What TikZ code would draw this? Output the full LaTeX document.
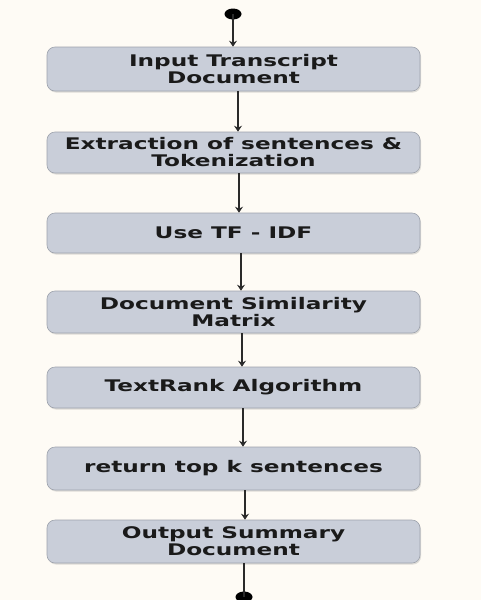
\documentclass[tikz,border=0pt]{standalone}
\usepackage{fontspec}
\newfontfamily\boxfont[FakeStretch=1.45]{DejaVu Sans}
\usetikzlibrary{arrows.meta,shadows,shapes.geometric}
\definecolor{bgcol}{HTML}{FEFBF5}
\definecolor{boxfill}{HTML}{C9CED9}
\definecolor{boxline}{HTML}{9EA3AD}
\definecolor{txtcol}{HTML}{1A1A1A}
\definecolor{arrcol}{HTML}{2A2A2A}
\tikzset{
  stepbox/.style={draw=boxline, line width=0.6pt, fill=boxfill, rounded corners=8pt,
    minimum width=373pt, inner sep=0pt, align=center, text=txtcol,
    font=\boxfont\bfseries\fontsize{16}{17}\selectfont,
    drop shadow={opacity=0.25, shadow xshift=1pt, shadow yshift=-1.5pt}},
  arr/.style={draw=arrcol, line width=2pt, -{Stealth[length=6pt,width=8pt]}},
  plainline/.style={draw=arrcol, line width=2pt},
  dot/.style={ellipse, fill=black, inner sep=0pt, minimum width=17pt, minimum height=11pt}
}
\begin{document}
\begin{tikzpicture}[x=1pt,y=-1pt]
\useasboundingbox (0,0) rectangle (481,600);
\fill[bgcol] (0,0) rectangle (481,600);
\node[dot] (start) at (233,14) {};
\node[stepbox, minimum height=44pt] (b1) at (233.5,69) {Input Transcript\\Document};
\node[stepbox, minimum height=41pt] (b2) at (233.5,152.5) {Extraction of sentences \&\\Tokenization};
\node[stepbox, minimum height=40pt] (b3) at (233.5,233) {Use TF - IDF};
\node[stepbox, minimum height=42pt] (b4) at (233.5,312) {Document Similarity\\Matrix};
\node[stepbox, minimum height=41pt] (b5) at (233.5,387.5) {TextRank Algorithm};
\node[stepbox, minimum height=43pt] (b6) at (233.5,468.5) {return top k sentences};
\node[stepbox, minimum height=43pt] (b7) at (233.5,541.5) {Output Summary\\Document};
\node[dot] (stop) at (244,597) {};
\draw[arr] (start.center) -- (start.center |- b1.north);
\draw[arr] ([xshift=4.5pt]b1.south) -- ([xshift=4.5pt]b2.north);
\draw[arr] ([xshift=5.5pt]b2.south) -- ([xshift=5.5pt]b3.north);
\draw[arr] ([xshift=7.5pt]b3.south) -- ([xshift=7.5pt]b4.north);
\draw[arr] ([xshift=8.5pt]b4.south) -- ([xshift=8.5pt]b5.north);
\draw[arr] ([xshift=9.5pt]b5.south) -- ([xshift=9.5pt]b6.north);
\draw[arr] ([xshift=11.5pt]b6.south) -- ([xshift=11.5pt]b7.north);
\draw[plainline] (stop.center |- b7.south) -- (stop.center);
\end{tikzpicture}
\end{document}
